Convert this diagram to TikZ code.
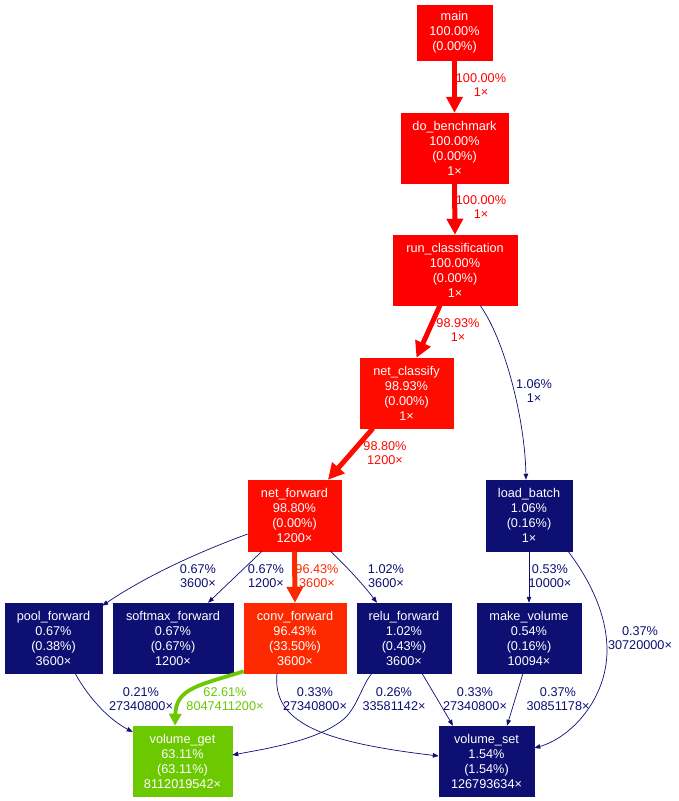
\documentclass[tikz,border=0pt]{standalone}
\usepackage{fontspec}
\setmainfont{Liberation Sans}
\usetikzlibrary{arrows.meta,calc}
\definecolor{cRed}{HTML}{FF0000}
\definecolor{cNet}{HTML}{FE0C00}
\definecolor{cConv}{HTML}{FD2A00}
\definecolor{cGreen}{HTML}{6CC800}
\definecolor{cNavy}{HTML}{0D0F73}
\begin{document}
\begin{tikzpicture}[x=1pt,y=-1pt,
  fn/.style={draw=#1,fill=#1,text=white,align=center,inner sep=0pt,line width=0.5pt,font=\fontsize{12.7}{15}\selectfont},
  lbl/.style={text=#1,align=center,inner sep=0pt,font=\fontsize{12.7}{14.5}\selectfont},
  thinedge/.style={draw=cNavy,line width=0.7pt,-{Triangle[length=6pt,width=4.5pt]}},
  fatedge/.style={draw=#1,line width=5pt,-{Triangle[length=16pt,width=16pt]}},
  midedge/.style={draw=#1,line width=3.8pt,-{Triangle[length=12pt,width=12pt]}},
]
\useasboundingbox (0,0) rectangle (679,801);
\fill[white] (0,0) rectangle (679,801);

% nodes
\node[fn=cRed,minimum width=75pt,minimum height=55pt] (main) at (454.5,32.5) {main\\100.00\%\\(0.00\%)};
\node[fn=cRed,minimum width=107pt,minimum height=70pt] (do) at (454.5,148) {do\_benchmark\\100.00\%\\(0.00\%)\\1×};
\node[fn=cRed,minimum width=124pt,minimum height=70pt] (run) at (455,270) {run\_classification\\100.00\%\\(0.00\%)\\1×};
\node[fn=cNet,minimum width=93pt,minimum height=70pt] (ncl) at (406.5,393) {net\_classify\\98.93\%\\(0.00\%)\\1×};
\node[fn=cNet,minimum width=93pt,minimum height=71pt] (nfw) at (294.5,515.5) {net\_forward\\98.80\%\\(0.00\%)\\1200×};
\node[fn=cNavy,minimum width=86pt,minimum height=71pt] (lb) at (529,515.5) {load\_batch\\1.06\%\\(0.16\%)\\1×};
\node[fn=cNavy,minimum width=97pt,minimum height=70pt] (pool) at (53.5,638) {pool\_forward\\0.67\%\\(0.38\%)\\3600×};
\node[fn=cNavy,minimum width=120pt,minimum height=70pt] (soft) at (173,638) {softmax\_forward\\0.67\%\\(0.67\%)\\1200×};
\node[fn=cConv,minimum width=102pt,minimum height=70pt] (conv) at (295,638) {conv\_forward\\96.43\%\\(33.50\%)\\3600×};
\node[fn=cNavy,minimum width=94pt,minimum height=70pt] (relu) at (404,638) {relu\_forward\\1.02\%\\(0.43\%)\\3600×};
\node[fn=cNavy,minimum width=104pt,minimum height=70pt] (mk) at (529,638) {make\_volume\\0.54\%\\(0.16\%)\\10094×};
\node[fn=cGreen,minimum width=99pt,minimum height=70pt] (vg) at (182.5,761) {volume\_get\\63.11\%\\(63.11\%)\\8112019542×};
\node[fn=cNavy,minimum width=95pt,minimum height=70pt] (vs) at (486.5,761) {volume\_set\\1.54\%\\(1.54\%)\\126793634×};

% edges
\draw[fatedge=cRed] (main.south) -- (do.north);
\draw[fatedge=cRed] (do.south) -- (run.north);
\draw[fatedge=cRed] ($(run.south)+(-15,0)$) -- ($(ncl.north)+(10,0)$);
\draw[thinedge] ($(run.south)+(25,0)$) .. controls (505,340) and (525,420) .. ($(lb.north)+(-3,0)$);
\draw[fatedge=cNet] ($(ncl.south)+(-33.5,0)$) -- ($(nfw.north)+(33.5,0)$);
\draw[thinedge] ($(nfw.west)+(0,18.5)$) .. controls (190,555) and (140,580) .. ($(pool.north east)+(0,3)$);
\draw[thinedge] ($(nfw.south)+(-32.5,0)$) -- ($(soft.north)+(35,0)$);
\draw[fatedge=cConv] (nfw.south) -- (conv.north);
\draw[thinedge] ($(nfw.south)+(36,0)$) .. controls (345,565) and (362,583) .. ($(relu.north)+(-27,0)$);
\draw[thinedge] (lb.south) -- (mk.north);
\draw[thinedge] ($(lb.south)+(39,0)$) .. controls (590,580) and (607,615) .. (607,650) .. controls (607,700) and (570,738) .. ($(vs.east)+(0,-13)$);
\draw[thinedge] ($(pool.south)+(21.5,0)$) .. controls (90,700) and (110,720) .. ($(vg.west)+(0,-29)$);
\draw[midedge=cGreen] ($(conv.south west)+(0,-2)$) .. controls (200,685) and (176,688) .. ($(vg.north)+(-7.5,0)$);
\draw[thinedge] ($(conv.south)+(-18,0)$) .. controls (272,722) and (320,742) .. ($(vs.west)+(0,-5)$);
\draw[thinedge] ($(relu.south)+(-32,0)$) .. controls (362,685) and (358,705) .. (345,718) .. controls (320,740) and (270,748) .. ($(vg.east)+(0,-6)$);
\draw[thinedge] ($(relu.south)+(18,0)$) -- ($(vs.north)+(-33.5,0)$);
\draw[thinedge] ($(mk.south)+(-6,0)$) -- ($(vs.north)+(20.5,0)$);

% edge labels
\node[lbl=cRed] (l1) at (481,85) {100.00\%\\1×};
\node[lbl=cRed] (l2) at (481,207) {100.00\%\\1×};
\node[lbl=cRed] (l3) at (458,330) {98.93\%\\1×};
\node[lbl=cNavy] (l4) at (534,391) {1.06\%\\1×};
\node[lbl=cNet] (l5) at (385,453) {98.80\%\\1200×};
\node[lbl=cNavy] (l6) at (198,576) {0.67\%\\3600×};
\node[lbl=cNavy] (l7) at (266,576) {0.67\%\\1200×};
\node[lbl=cConv] (l8) at (317,576) {96.43\%\\3600×};
\node[lbl=cNavy] (l9) at (386,576) {1.02\%\\3600×};
\node[lbl=cNavy] (l10) at (550,576) {0.53\%\\10000×};
\node[lbl=cNavy] (l11) at (640,638) {0.37\%\\30720000×};
\node[lbl=cNavy] (l12) at (141,699) {0.21\%\\27340800×};
\node[lbl=cGreen] (l13) at (225,699) {62.61\%\\8047411200×};
\node[lbl=cNavy] (l14) at (315,699) {0.33\%\\27340800×};
\node[lbl=cNavy] (l15) at (394,699) {0.26\%\\33581142×};
\node[lbl=cNavy] (l16) at (475,699) {0.33\%\\27340800×};
\node[lbl=cNavy] (l17) at (558,699) {0.37\%\\30851178×};
\end{tikzpicture}
\end{document}
